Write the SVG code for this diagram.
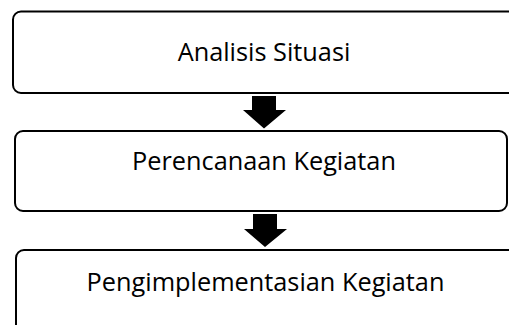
<svg xmlns="http://www.w3.org/2000/svg" width="509" height="325" viewBox="0 0 509 325">
<style>
.box{fill:#fff;stroke:#000;stroke-width:2}
.lbl{font-family:"Open Sans","Liberation Sans",sans-serif;font-size:25.3px;fill:#000;text-anchor:middle}
.arr{fill:#000}
</style>
<rect width="509" height="325" fill="#fff"/>
<g id="node-analisis">
<rect class="box" x="13" y="11.5" width="505" height="81.5" rx="8"/>
<text class="lbl" x="264" y="61">Analisis Situasi</text>
</g>
<g id="node-perencanaan">
<rect class="box" x="15" y="131" width="492" height="80" rx="8"/>
<text class="lbl" x="264" y="170">Perencanaan Kegiatan</text>
</g>
<g id="node-implementasi">
<rect class="box" x="16" y="250" width="505" height="95" rx="8"/>
<text class="lbl" x="265.5" y="291">Pengimplementasian Kegiatan</text>
</g>
<g id="connectors">
<polygon class="arr" points="252,96 276,96 276,110 286,110 264,128.5 243,110 252,110"/>
<polygon class="arr" points="253,214 277,214 277,229 287,229 265,247 244,229 253,229"/>
</g>
</svg>
